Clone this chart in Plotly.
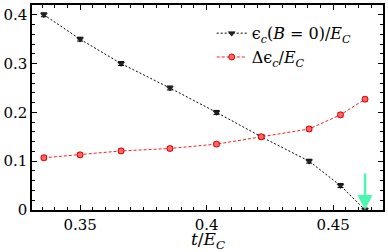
import plotly.graph_objects as go

t_black = [0.3357, 0.3500, 0.3662, 0.3855, 0.4039, 0.4216, 0.4405, 0.4529, 0.4626]
eps_c = [0.400, 0.350, 0.300, 0.250, 0.200, 0.150, 0.100, 0.050, 0.000]
delta_eps = [0.107, 0.113, 0.121, 0.126, 0.135, 0.150, 0.166, 0.195, 0.227]
err_black = [0.004] * 9
err_red = [0.004] * 9

font_fam = "DejaVu Serif"

fig = go.Figure()
fig.add_trace(go.Scatter(
    x=t_black, y=eps_c, mode="lines+markers",
    name="ϵ<sub><i>c</i></sub>(<i>B</i> = 0)/<i>E</i><sub><i>C</i></sub>",
    line=dict(color="black", width=1, dash="2px,2px"),
    marker=dict(symbol="triangle-down", size=6, color="#222222", line=dict(color="black", width=0.5)),
    error_y=dict(type="data", array=err_black, color="black", thickness=1, width=3),
))
fig.add_trace(go.Scatter(
    x=t_black, y=delta_eps, mode="lines+markers",
    name="Δϵ<sub><i>c</i></sub>/<i>E</i><sub><i>C</i></sub>",
    line=dict(color="#ee2222", width=1, dash="3px,2px"),
    marker=dict(symbol="circle", size=6, color="#ff6666", line=dict(color="#dd0000", width=1)),
    error_y=dict(type="data", array=err_red, color="#dd0000", thickness=1, width=3),
))

fig.add_annotation(
    x=t_black[-1], y=0, xref="x", yref="y",
    showarrow=True, ax=0, ay=-38, axref="pixel", ayref="pixel",
    arrowcolor="#4cf5b0", arrowwidth=2.5, arrowhead=2, arrowsize=1.2, standoff=0, text="",
)

fig.add_annotation(
    x=0.5, y=0, xref="paper", yref="paper", yanchor="top", yshift=-18, borderpad=0,
    showarrow=False, text="<i>t</i>/<i>E</i><sub><i>C</i></sub>",
    font=dict(family=font_fam, size=17, color="black"),
)

axis_common = dict(
    showline=True, linecolor="black", linewidth=1.5, mirror="ticks",
    ticks="inside", ticklen=5, tickcolor="black", showgrid=False, zeroline=False,
    tickfont=dict(family=font_fam, size=15, color="black"),
)

fig.update_xaxes(
    range=[0.331, 0.4697], tickvals=[0.35, 0.40, 0.45], ticktext=["0.35", "0.4", "0.45"],
    minor=dict(dtick=0.005, tick0=0.35, ticks="inside", ticklen=3, tickcolor="black"),
    **axis_common,
)
fig.update_yaxes(
    range=[0, 0.42], tickvals=[0, 0.1, 0.2, 0.3, 0.4], ticktext=["0", "0.1", "0.2", "0.3", "0.4"],
    minor=dict(dtick=0.02, tick0=0, ticks="inside", ticklen=3, tickcolor="black"),
    **axis_common,
)

fig.update_layout(
    width=388, height=252,
    margin=dict(l=26, r=3, t=5, b=42),
    plot_bgcolor="white", paper_bgcolor="white",
    font=dict(family=font_fam),
    showlegend=True,
    legend=dict(x=0.512, y=0.945, xanchor="left", yanchor="top",
                bgcolor="rgba(0,0,0,0)", font=dict(family=font_fam, size=16, color="black"),
                itemwidth=30, tracegroupgap=0),
)

fig.write_html("out.html", config={"displayModeBar": False},
               post_script="document.body.style.margin='0';document.body.style.overflow='hidden';")
